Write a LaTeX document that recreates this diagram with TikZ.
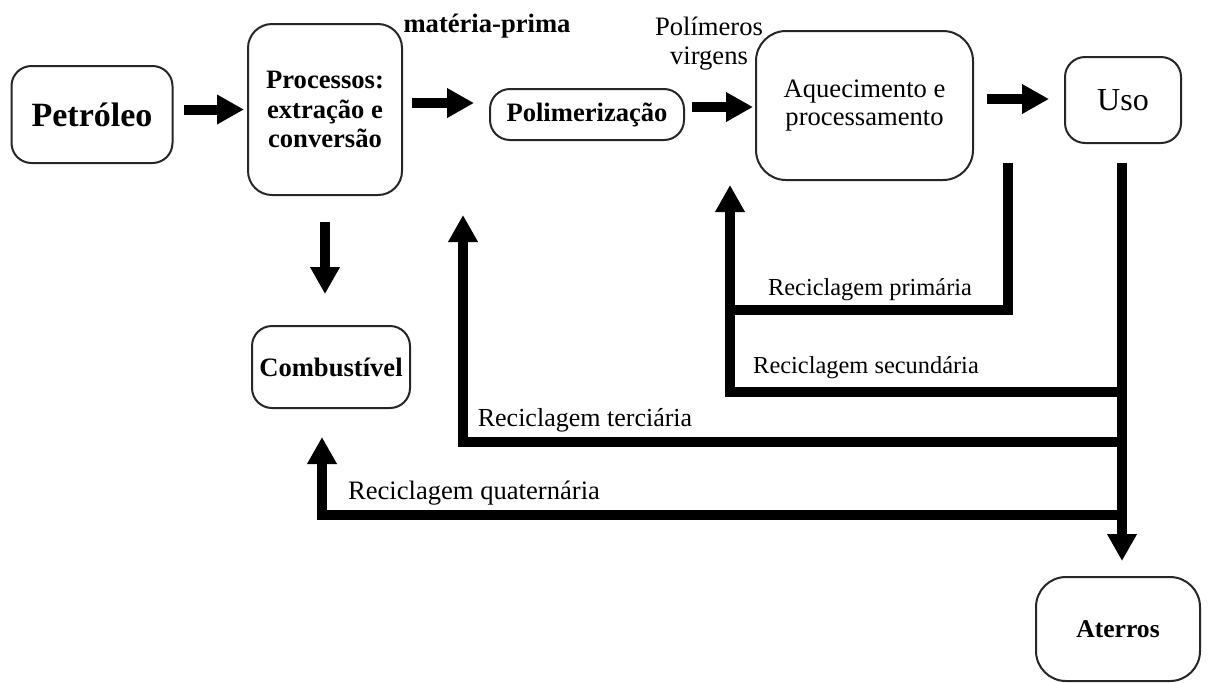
\documentclass[tikz,border=0pt]{standalone}
\usepackage{fontspec}
\setmainfont{Liberation Serif}
\usetikzlibrary{arrows.meta}
\tikzset{
block/.style={
  draw=black!85,
  line width=1pt,
  rounded corners=10pt,
  fill=white,
  align=center,
  inner sep=0pt
},
boldtext/.style={
  font=\fontsize{13.3}{14.8}\selectfont\bfseries
},
plaintext/.style={
  font=\fontsize{13.3}{14.3}\selectfont,
  align=center
},
reclabel/.style={
  font=\fontsize{12.2}{14}\selectfont
},
arrow/.style={
  -{Triangle[length=13.5pt,width=14pt]},
  line width=5pt,
  line join=miter
},
thickline/.style={
  line width=5pt,
  line join=miter
}
}
\begin{document}
\begin{tikzpicture}[x=0.5pt,y=-0.5pt]
\useasboundingbox (0,0) rectangle (1213,682);

\node[block, font=\fontsize{17}{18}\selectfont\bfseries, minimum width=80.5pt, minimum height=48.5pt] (petroleo) at (92,114.5) {Petróleo};
\node[block, boldtext, minimum width=77pt, minimum height=85.5pt, rounded corners=12pt] (processos) at (325,109.5) {Processos:\\extração e\\conversão};
\node[block, boldtext, minimum width=97pt, minimum height=25.5pt] (polim) at (587,114.5) {Polimerização};
\node[block, plaintext, minimum width=108.5pt, minimum height=74.5pt, rounded corners=15pt] (aquec) at (864.5,105.5) {Aquecimento e\\processamento};
\node[block, font=\fontsize{16}{18}\selectfont, minimum width=58pt, minimum height=43pt] (uso) at (1123,100) {Uso};
\node[block, boldtext, minimum width=79pt, minimum height=41pt] (combust) at (331,367) {Combustível};
\node[block, font=\fontsize{12.8}{14}\selectfont\bfseries, minimum width=82pt, minimum height=52pt, rounded corners=15pt] (aterros) at (1118,629) {Aterros};

\node[boldtext] (materia) at (487,26) {matéria-prima};
\node[plaintext, font=\fontsize{13.3}{14.5}\selectfont] (polvirg) at (709,44) {Polímeros\\virgens};

% setas principais
\draw[arrow, shorten <=5pt, shorten >=1.5pt] (petroleo.east |- processos.west) -- (processos.west);
\draw[arrow, shorten <=4.5pt, shorten >=7.5pt] ([yshift=3.25pt]processos.east) -- ([yshift=5.75pt]polim.west);
\draw[arrow, shorten <=3.5pt, shorten >=1pt] ([yshift=3.75pt]polim.east) -- ([yshift=-0.75pt]aquec.west);
\draw[arrow, shorten <=6.5pt, shorten >=7.5pt] ([yshift=3.25pt]aquec.east) -- ([yshift=0.5pt]uso.west);
\draw[arrow, shorten <=13pt, shorten >=15.5pt] (processos.south) -- (processos.south |- combust.north);

% reciclagem
\coordinate (aqout) at (1008,163);
\coordinate (usoout) at (1122,163);
\coordinate (jprim) at (730,310);
\coordinate (aqin) at (730,185);
\coordinate (polin) at (463,215);
\coordinate (combin) at (322,437);

\draw[thickline] (aqout) |- (jprim);
\draw[arrow] (usoout |- 0,392) -| (aqin);
\draw[arrow] (usoout |- 0,442) -| (polin);
\draw[arrow] (usoout |- 0,515) -| (combin);
\draw[arrow, shorten >=7.5pt] (usoout) -- (usoout |- aterros.north);

\node[reclabel] (lprim) at (870,290) {Reciclagem primária};
\node[reclabel] (lsec) at (866,368) {Reciclagem secundária};
\node[reclabel, font=\fontsize{13}{14}\selectfont] (lterc) at (585,420) {Reciclagem terciária};
\node[reclabel, font=\fontsize{13.3}{14}\selectfont] (lquat) at (474,493) {Reciclagem quaternária};
\end{tikzpicture}
\end{document}
